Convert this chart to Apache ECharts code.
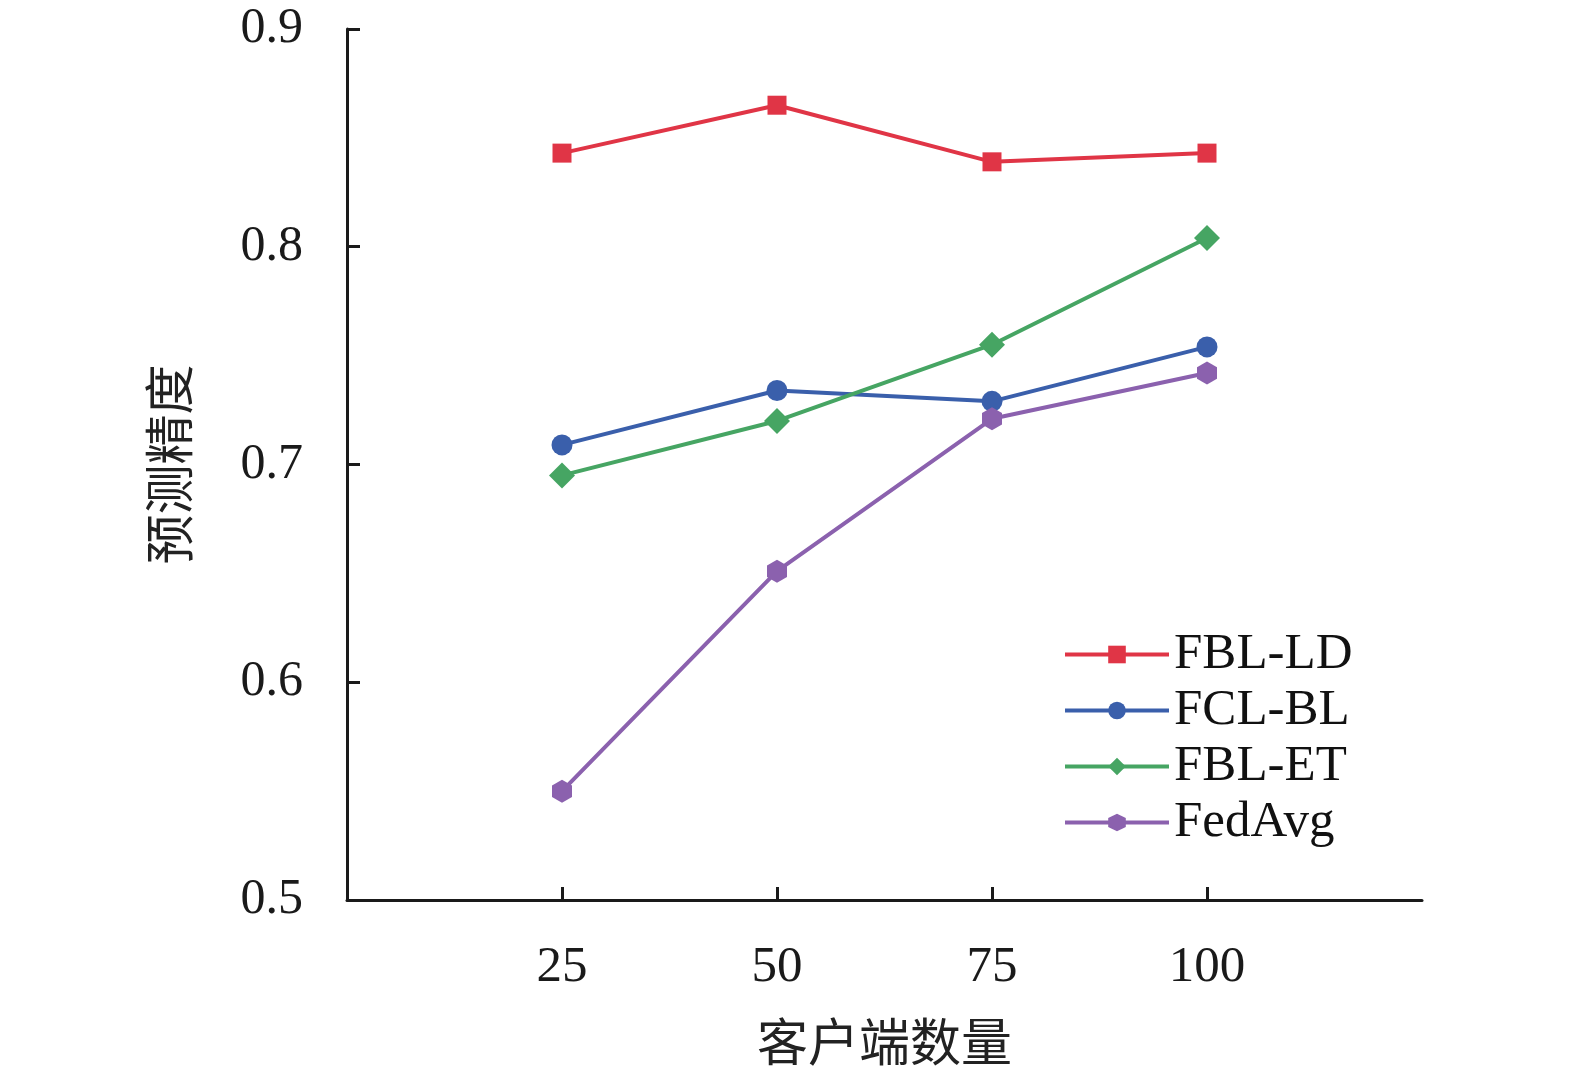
<!DOCTYPE html>
<html>
<head>
<meta charset="utf-8">
<script src="https://cdn.jsdelivr.net/npm/echarts@6/dist/echarts.min.js"></script>
<style>
  html, body { margin: 0; padding: 0; background: #fff; }
  #main { width: 1575px; height: 1070px; }
</style>
</head>
<body>
<div id="main"></div>
<script>
var clients = [25, 50, 75, 100];
var seriesNames = ['FBL-LD', 'FCL-BL', 'FBL-ET', 'FedAvg'];
var fblLd = [0.843, 0.865, 0.839, 0.843];
var fclBl = [0.709, 0.734, 0.729, 0.754];
var fblEt = [0.695, 0.720, 0.755, 0.804];
var fedAvg = [0.550, 0.651, 0.721, 0.742];

var colors = ['#e03546', '#3a5fab', '#46a563', '#8b61ae'];
var hexagon = 'path://M0,-1 L0.866,-0.5 L0.866,0.5 L0,1 L-0.866,0.5 L-0.866,-0.5 Z';
var symbols = ['rect', 'circle', 'diamond', hexagon];
var symbolSizes = [19, 21, 26, [20, 23]];
var values = [fblLd, fclBl, fblEt, fedAvg];

var fontEn = '"Liberation Serif", "Times New Roman", serif';
var fontCn = '"Liberation Serif", "Noto Sans CJK SC", serif';

function pairs(arr) {
    return arr.map(function (v, i) { return [clients[i], v]; });
}

var dom = document.getElementById('main');
var myChart = echarts.init(dom);
var option = {
    animation: false,
    color: colors,
    grid: {
        left: 347,
        top: 29,
        width: 1075,
        height: 871,
        containLabel: false,
        outerBoundsMode: 'none'
    },
    legend: {
        left: 1058,
        top: 624,
        orient: 'vertical',
        itemWidth: 104,
        itemHeight: 22,
        itemGap: 5,
        lineStyle: { width: 4 },
        textStyle: {
            fontFamily: fontEn,
            fontSize: 51,
            color: '#111'
        },
        data: seriesNames
    },
    xAxis: {
        type: 'value',
        min: 0,
        max: 125,
        interval: 25,
        name: '客户端数量',
        nameLocation: 'middle',
        nameGap: 122,
        nameTextStyle: {
            fontFamily: fontCn,
            fontSize: 51,
            color: '#222'
        },
        splitLine: { show: false },
        axisLine: { lineStyle: { color: '#1a1a1a', width: 3 } },
        axisTick: {
            inside: true,
            length: 13,
            lineStyle: { color: '#1a1a1a', width: 3 },
            customValues: clients
        },
        axisLabel: {
            margin: 42,
            fontFamily: fontEn,
            fontSize: 51,
            color: '#1a1a1a',
            customValues: clients
        }
    },
    yAxis: {
        type: 'value',
        min: 0.5,
        max: 0.9,
        interval: 0.1,
        name: '预测精度',
        nameLocation: 'middle',
        nameGap: 147,
        nameRotate: 90,
        nameTextStyle: {
            fontFamily: fontCn,
            fontSize: 50,
            color: '#222'
        },
        splitLine: { show: false },
        axisLine: { show: true, lineStyle: { color: '#1a1a1a', width: 3 } },
        axisTick: {
            show: true,
            inside: true,
            length: 13,
            lineStyle: { color: '#1a1a1a', width: 3 }
        },
        axisLabel: {
            margin: 44,
            fontFamily: fontEn,
            fontSize: 50,
            color: '#1a1a1a',
            formatter: function (v) { return v.toFixed(1); }
        }
    },
    series: seriesNames.map(function (name, i) {
        return {
            name: name,
            type: 'line',
            data: pairs(values[i]),
            symbol: symbols[i],
            symbolSize: symbolSizes[i],
            lineStyle: { width: 4, color: colors[i] },
            itemStyle: { color: colors[i] }
        };
    })
};
myChart.setOption(option);
</script>
</body>
</html>
